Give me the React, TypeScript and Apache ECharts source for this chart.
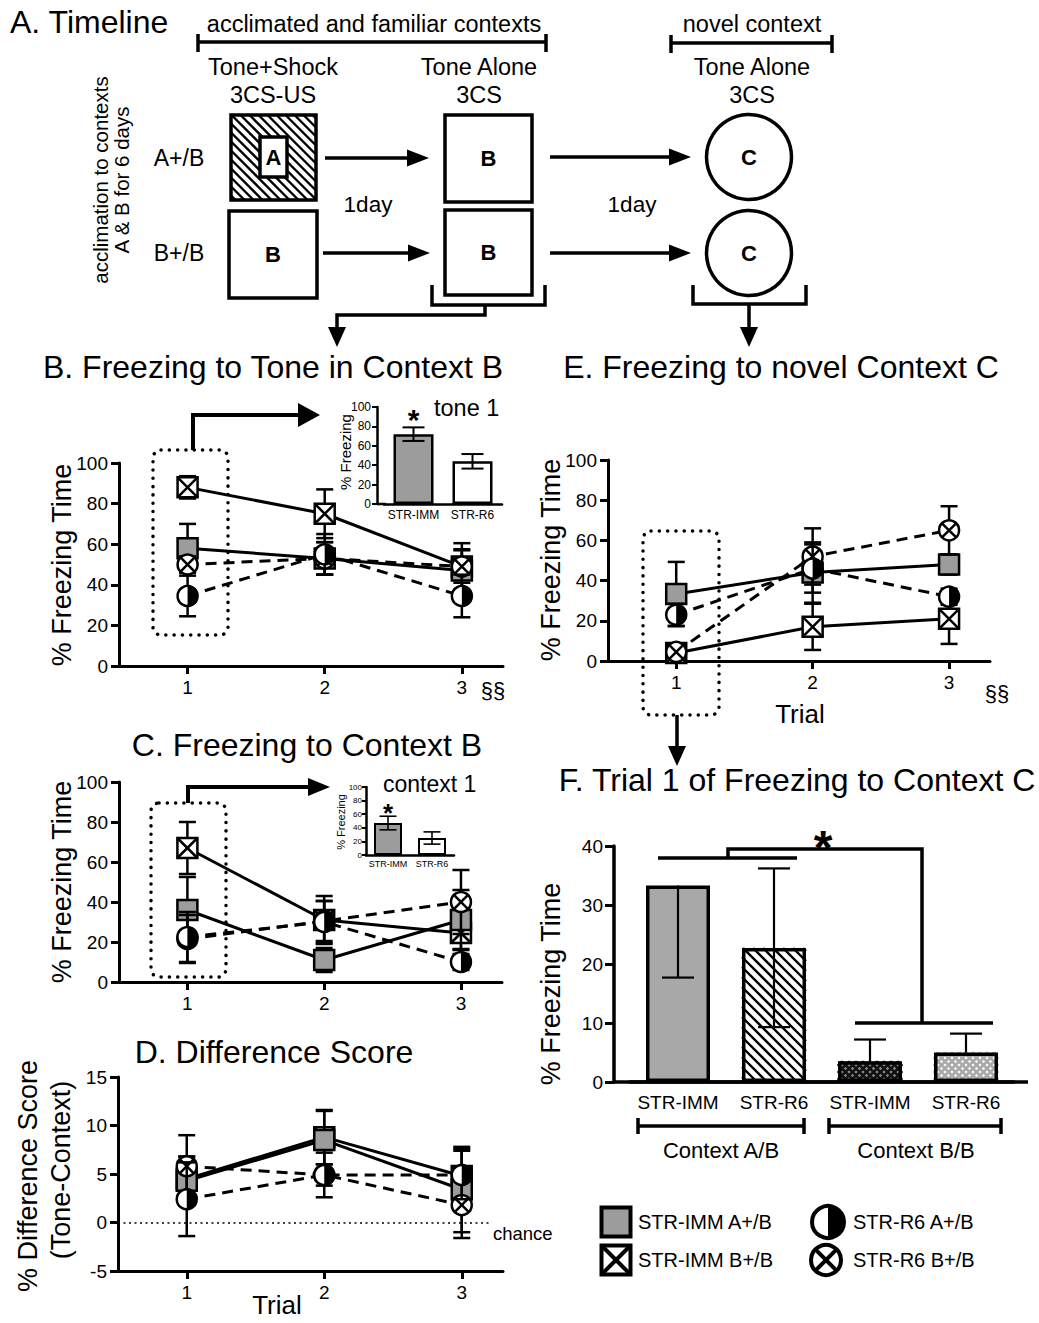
import React, { useEffect, useRef } from 'react';
import * as echarts from 'echarts';

const FONT = '"Liberation Sans", Arial, Helvetica, sans-serif';
const GRAY = '#9c9c9c';
const GRAY_BAR = '#a8a8a8';

// ---------------- data ----------------
const trials = [1, 2, 3];
const groupNames = ['STR-IMM A+/B', 'STR-IMM B+/B', 'STR-R6 A+/B', 'STR-R6 B+/B'];

// B. Freezing to tone in context B
const toneImmAB = [58, 53, 47];
const toneImmABErr = [12, 8, 10.5];
const toneImmBB = [88, 75, 49];
const toneImmBBErr = [5.5, 12, 8];
const toneR6AB = [34.5, 55, 34.5];
const toneR6ABErr = [10, 10, 10.5];
const toneR6BB = [50, 53, 49];
const toneR6BBErr = [4, 8, 11.5];

// C. Freezing to context B
const ctxImmAB = [36, 11, 31];
const ctxImmABErr = [16.5, 6, 15];
const ctxImmBB = [67, 31, 24.5];
const ctxImmBBErr = [13, 12, 8];
const ctxR6AB = [22.5, 30, 10];
const ctxR6ABErr = [12.5, 10.5, 4];
const ctxR6BB = [21.5, 30.5, 40];
const ctxR6BBErr = [12, 10, 16];

// D. Difference score
const diffImmAB = [4.3, 8.5, 3.4];
const diffImmABErr = [2.5, 3, 4.4];
const diffImmBB = [4.5, 8.8, 4.8];
const diffImmBBErr = [2.3, 2.8, 2.8];
const diffR6AB = [2.4, 4.9, 4.9];
const diffR6ABErr = [3.8, 2.3, 2.5];
const diffR6BB = [5.8, 4.9, 1.8];
const diffR6BBErr = [3.2, 1.1, 3.4];

// E. Freezing to novel context C
const novelImmAB = [33.3, 44, 48];
const novelImmABErr = [16, 15, 5];
const novelImmBB = [4, 17, 21];
const novelImmBBErr = [3, 11.5, 12.5];
const novelR6AB = [23, 46, 32];
const novelR6ABErr = [5.5, 12, 4];
const novelR6BB = [4.5, 52, 65];
const novelR6BBErr = [3, 14, 12];

// insets
const insetCats = ['STR-IMM', 'STR-R6'];
const tone1 = [72, 44];
const tone1Err = [7, 7.5];
const context1 = [47, 25];
const context1Err = [10, 9];

// F. Trial 1 of freezing to context C
const fCats = ['STR-IMM', 'STR-R6', 'STR-IMM', 'STR-R6'];
const fValues = [33.3, 22.7, 3.5, 5.0];
const fErrLow = [15.6, 13.4, 0, 0];
const fErrHigh = [0, 13.5, 3.7, 3.2];

// chance line extent (trial axis units) in panel D
const chanceLevel = 0;
const chanceFrom = 0.5;
const chanceTo = 3.22;

// ---------------- styles ----------------
const groupKinds = ['sq', 'xsq', 'half', 'xcirc'];
const groupDashed = [false, false, true, true];
const drawOrder = [1, 0, 3, 2];
const fPatternStyles = ['solid', 'hatch', 'dark', 'light'];
const F_BAR_W = 64;

function marker(kind: string, cx: number, cy: number, s: number, lw: number): any[] {
  const h = s / 2;
  const stroke = { stroke: '#000', lineWidth: lw };
  if (kind === 'sq')
    return [{ type: 'rect', shape: { x: cx - h, y: cy - h, width: s, height: s }, style: { fill: GRAY, ...stroke } }];
  if (kind === 'xsq')
    return [
      { type: 'rect', shape: { x: cx - h, y: cy - h, width: s, height: s }, style: { fill: '#fff', ...stroke } },
      { type: 'line', shape: { x1: cx - h, y1: cy - h, x2: cx + h, y2: cy + h }, style: stroke },
      { type: 'line', shape: { x1: cx + h, y1: cy - h, x2: cx - h, y2: cy + h }, style: stroke },
    ];
  if (kind === 'half')
    return [
      { type: 'circle', shape: { cx, cy, r: h }, style: { fill: '#fff' } },
      { type: 'sector', shape: { cx, cy, r0: 0, r: h, startAngle: -Math.PI / 2, endAngle: Math.PI / 2, clockwise: true }, style: { fill: '#000' } },
      { type: 'circle', shape: { cx, cy, r: h }, style: { fill: 'none', ...stroke } },
    ];
  const d = h * 0.7071;
  return [
    { type: 'circle', shape: { cx, cy, r: h }, style: { fill: '#fff', ...stroke } },
    { type: 'line', shape: { x1: cx - d, y1: cy - d, x2: cx + d, y2: cy + d }, style: stroke },
    { type: 'line', shape: { x1: cx + d, y1: cy - d, x2: cx - d, y2: cy + d }, style: stroke },
  ];
}

function diagLines(x0: number, y0: number, w: number, h: number, step: number, dir: number, style: any): any[] {
  const out: any[] = [];
  for (let c = -h + step / 2; c < w; c += step) {
    const t0 = Math.max(0, -c);
    const t1 = Math.min(h, w - c);
    if (t1 - t0 < 0.5) continue;
    const xa = c + t0;
    const xb = c + t1;
    out.push({
      type: 'line',
      shape: dir === 1
        ? { x1: x0 + xa, y1: y0 + t0, x2: x0 + xb, y2: y0 + t1 }
        : { x1: x0 + w - xa, y1: y0 + t0, x2: x0 + w - xb, y2: y0 + t1 },
      style,
    });
  }
  return out;
}

const txt = (text: string, x: number, y: number, size: number, o: any = {}) => ({
  type: 'text', x, y, rotation: o.rot || 0, z: 20,
  style: {
    text, fontSize: size, fontFamily: FONT, fontWeight: o.bold ? 'bold' : 'normal', fill: '#000',
    align: o.align || 'center', verticalAlign: 'middle',
  },
});
const ln = (x1: number, y1: number, x2: number, y2: number, w = 3.5, extra: any = {}) => ({
  type: 'line', z: 20, shape: { x1, y1, x2, y2 }, style: { stroke: '#000', lineWidth: w, ...extra },
});
const pl = (points: number[][], w = 3.5) => ({
  type: 'polyline', z: 20, shape: { points }, style: { stroke: '#000', lineWidth: w, fill: 'none' },
});
const pg = (points: number[][]) => ({ type: 'polygon', z: 20, shape: { points }, style: { fill: '#000' } });
const arrowR = (x1: number, x2: number, y: number, w = 3.5) => [
  ln(x1, y, x2 - 18, y, w),
  pg([[x2 - 22, y - 8.5], [x2, y], [x2 - 22, y + 8.5]]),
];
const arrowD = (x: number, y2: number) => pg([[x - 9, y2 - 20], [x + 9, y2 - 20], [x, y2]]);
const dotted = (x: number, y: number, w: number, h: number) => ({
  type: 'rect', z: 20, shape: { x, y, width: w, height: h, r: 8 },
  style: { fill: 'none', stroke: '#000', lineWidth: 3.5, lineDash: [0.1, 8.2], lineCap: 'round' },
});
const box = (x: number, y: number, w: number, h: number, label: string) => [
  { type: 'rect', z: 20, shape: { x, y, width: w, height: h }, style: { fill: '#fff', stroke: '#000', lineWidth: 3.5 } },
  txt(label, x + w / 2, y + h / 2, 22, { bold: true }),
];
const circ = (cx: number, cy: number, r: number, label: string) => [
  { type: 'circle', z: 20, shape: { cx, cy, r }, style: { fill: '#fff', stroke: '#000', lineWidth: 3.5 } },
  txt(label, cx, cy, 22, { bold: true }),
];

// ---------------- axes ----------------
const trialX = (gridIndex: number) => ({
  type: 'value', gridIndex, min: 0.5, max: 3.3,
  axisLine: { show: true, onZero: false, lineStyle: { color: '#000', width: 3 } },
  axisTick: { show: true, customValues: trials, length: 8, lineStyle: { color: '#000', width: 3 } },
  axisLabel: { customValues: trials, fontSize: 19, color: '#000', margin: 12, fontFamily: FONT },
  splitLine: { show: false },
});
const valY = (gridIndex: number, min: number, max: number, interval: number) => ({
  type: 'value', gridIndex, min, max, interval,
  axisLine: { show: true, onZero: false, lineStyle: { color: '#000', width: 3 } },
  axisTick: { show: true, length: 8, lineStyle: { color: '#000', width: 3 } },
  axisLabel: { fontSize: 19, color: '#000', margin: 11, fontFamily: FONT },
  splitLine: { show: false },
});
const insetX = (gridIndex: number, fs: number, margin: number) => ({
  type: 'category', gridIndex, data: insetCats,
  axisLine: { show: true, lineStyle: { color: '#000', width: 2.5 } },
  axisTick: { show: false },
  axisLabel: { fontSize: fs, color: '#000', margin, fontFamily: FONT, interval: 0 },
});
const insetY = (gridIndex: number, fs: number, margin: number, tick: number, offset: number) => ({
  type: 'value', gridIndex, min: 0, max: 100, interval: 20, offset,
  axisLine: { show: true, lineStyle: { color: '#000', width: 2.5 } },
  axisTick: { show: true, length: tick, lineStyle: { color: '#000', width: 2 } },
  axisLabel: { fontSize: fs, color: '#000', margin, fontFamily: FONT },
  splitLine: { show: false },
});

// ---------------- series helpers ----------------
function lineSeries(ai: number, vals: number[], dashed: boolean, extra: any = {}) {
  return {
    type: 'line', xAxisIndex: ai, yAxisIndex: ai, z: 2, silent: true, symbol: 'none',
    data: trials.map((t, i) => [t, vals[i]]),
    lineStyle: { color: '#000', width: 3, type: dashed ? [11, 7] : 'solid' },
    ...extra,
  };
}
function pointSeries(ai: number, name: string, kind: string, vals: number[], errs: number[]) {
  return {
    type: 'custom', name, xAxisIndex: ai, yAxisIndex: ai, z: 5, silent: true,
    data: trials.map((t, i) => [t, vals[i], errs[i]]),
    encode: { x: 0, y: 1 },
    renderItem: (params: any, api: any) => {
      const x = api.value(0);
      const y = api.value(1);
      const e = api.value(2);
      const p = api.coord([x, y]);
      const top = api.coord([x, y + e])[1];
      const bot = api.coord([x, y - e])[1];
      const c = 8.5;
      const st = { stroke: '#000', lineWidth: 2.5 };
      return {
        type: 'group',
        children: [
          { type: 'line', shape: { x1: p[0], y1: top, x2: p[0], y2: bot }, style: st },
          { type: 'line', shape: { x1: p[0] - c, y1: top, x2: p[0] + c, y2: top }, style: st },
          { type: 'line', shape: { x1: p[0] - c, y1: bot, x2: p[0] + c, y2: bot }, style: st },
          ...marker(kind, p[0], p[1], 20, 2.5),
        ],
      };
    },
  };
}
function barErrSeries(ai: number, vals: number[], lo: number[], hi: number[], cap: number, lw: number) {
  return {
    type: 'custom', xAxisIndex: ai, yAxisIndex: ai, z: 6, silent: true,
    data: vals.map((v, i) => [i, v, lo[i], hi[i]]),
    encode: { x: 0, y: 1 },
    renderItem: (params: any, api: any) => {
      const i = api.value(0);
      const v = api.value(1);
      const l = api.value(2);
      const h = api.value(3);
      const p = api.coord([i, v]);
      const yl = api.coord([i, v - l])[1];
      const yh = api.coord([i, v + h])[1];
      const st = { stroke: '#000', lineWidth: lw };
      const ch: any[] = [{ type: 'line', shape: { x1: p[0], y1: yh, x2: p[0], y2: yl }, style: st }];
      if (l > 0) ch.push({ type: 'line', shape: { x1: p[0] - cap / 2, y1: yl, x2: p[0] + cap / 2, y2: yl }, style: st });
      if (h > 0) ch.push({ type: 'line', shape: { x1: p[0] - cap / 2, y1: yh, x2: p[0] + cap / 2, y2: yh }, style: st });
      return { type: 'group', children: ch };
    },
  };
}

function buildOption() {
  const panels = [
    { ai: 0, means: [toneImmAB, toneImmBB, toneR6AB, toneR6BB], errs: [toneImmABErr, toneImmBBErr, toneR6ABErr, toneR6BBErr] },
    { ai: 1, means: [ctxImmAB, ctxImmBB, ctxR6AB, ctxR6BB], errs: [ctxImmABErr, ctxImmBBErr, ctxR6ABErr, ctxR6BBErr] },
    { ai: 2, means: [diffImmAB, diffImmBB, diffR6AB, diffR6BB], errs: [diffImmABErr, diffImmBBErr, diffR6ABErr, diffR6BBErr] },
    { ai: 3, means: [novelImmAB, novelImmBB, novelR6AB, novelR6BB], errs: [novelImmABErr, novelImmBBErr, novelR6ABErr, novelR6BBErr] },
  ];
  const series: any[] = [];
  panels.forEach((p) => {
    p.means.forEach((m, g) => {
      const extra = p.ai === 2 && g === 0
        ? {
            markLine: {
              silent: true, symbol: 'none', label: { show: false },
              data: [[{ coord: [chanceFrom, chanceLevel] }, { coord: [chanceTo, chanceLevel] }]],
              lineStyle: { color: '#000', type: [2, 3.5], width: 1.6 },
            },
          }
        : {};
      series.push(lineSeries(p.ai, m, groupDashed[g], extra));
    });
    drawOrder.forEach((g) => series.push(pointSeries(p.ai, groupNames[g], groupKinds[g], p.means[g], p.errs[g])));
  });

  // F bars
  series.push({
    type: 'custom', xAxisIndex: 4, yAxisIndex: 4, z: 2, silent: true,
    data: fValues.map((v, i) => [i, v]),
    encode: { x: 0, y: 1 },
    renderItem: (params: any, api: any) => {
      const i = api.value(0);
      const kind = fPatternStyles[i];
      const top = api.coord([i, api.value(1)]);
      const base = api.coord([i, 0]);
      const x0 = top[0] - F_BAR_W / 2;
      const y0 = top[1];
      const w = F_BAR_W;
      const h = base[1] - top[1];
      const ch: any[] = [];
      if (kind === 'hatch') {
        ch.push({ type: 'rect', shape: { x: x0, y: y0, width: w, height: h }, style: { fill: '#fff' } });
        ch.push(...diagLines(x0, y0, w, h, 10, 1, { stroke: '#000', lineWidth: 2.4 }));
      } else if (kind === 'dark') {
        ch.push({ type: 'rect', shape: { x: x0, y: y0, width: w, height: h }, style: { fill: '#8e8e8e' } });
        ch.push(...diagLines(x0, y0, w, h, 7, 1, { stroke: '#111', lineWidth: 2.6 }));
        ch.push(...diagLines(x0, y0, w, h, 7, -1, { stroke: '#111', lineWidth: 2.6 }));
      } else if (kind === 'light') {
        ch.push({ type: 'rect', shape: { x: x0, y: y0, width: w, height: h }, style: { fill: '#fff' } });
        ch.push(...diagLines(x0, y0, w, h, 7, 1, { stroke: '#aaa', lineWidth: 2.6 }));
        ch.push(...diagLines(x0, y0, w, h, 7, -1, { stroke: '#aaa', lineWidth: 2.6 }));
      }
      return { type: 'group', children: ch };
    },
  });
  series.push({
    type: 'bar', xAxisIndex: 4, yAxisIndex: 4, z: 3, silent: true, barWidth: F_BAR_W,
    data: fValues.map((v, i) => ({ value: v, itemStyle: { color: i === 0 ? GRAY_BAR : 'rgba(0,0,0,0)' } })),
    itemStyle: { borderColor: '#000', borderWidth: 3.5 },
  });
  series.push(barErrSeries(4, fValues, fErrLow, fErrHigh, 32, 2.2));

  // insets
  const starLabel = (fs: number, lh: number | undefined, dist: number) => ({
    show: true, position: 'top', distance: dist, formatter: '*', fontSize: fs, fontWeight: 'bold', color: '#000', fontFamily: FONT,
    ...(lh ? { lineHeight: lh } : {}),
  });
  series.push({
    type: 'bar', xAxisIndex: 5, yAxisIndex: 5, z: 3, silent: true, barWidth: 40,
    data: tone1.map((v, i) => ({ value: v, itemStyle: { color: i === 0 ? GRAY : '#fff' }, label: i === 0 ? starLabel(30, undefined, 0) : { show: false } })),
    itemStyle: { borderColor: '#000', borderWidth: 2.5 },
  });
  series.push(barErrSeries(5, tone1, tone1Err, tone1Err, 22, 2));
  series.push({
    type: 'bar', xAxisIndex: 6, yAxisIndex: 6, z: 3, silent: true, barWidth: 28,
    data: context1.map((v, i) => ({ value: v, itemStyle: { color: i === 0 ? GRAY : '#fff' }, label: i === 0 ? starLabel(26, 15, 3) : { show: false } })),
    itemStyle: { borderColor: '#000', borderWidth: 2 },
  });
  series.push(barErrSeries(6, context1, context1Err, context1Err, 17, 1.6));

  // ---------------- graphic annotations ----------------
  const g: any[] = [];
  // Panel A
  g.push(txt('A. Timeline', 10, 22, 32, { align: 'left' }));
  g.push(txt('acclimated and familiar contexts', 374, 24, 23.5));
  g.push(ln(198, 42, 546, 42), ln(198, 34, 198, 52), ln(546, 34, 546, 52));
  g.push(txt('novel context', 752, 24, 23.5));
  g.push(ln(671, 43, 832, 43), ln(671, 35, 671, 53), ln(832, 35, 832, 53));
  g.push(txt('Tone+Shock', 273, 67, 23.5), txt('3CS-US', 273, 95, 23.5));
  g.push(txt('Tone Alone', 479, 67, 23.5), txt('3CS', 479, 95, 23.5));
  g.push(txt('Tone Alone', 752, 67, 23.5), txt('3CS', 752, 95, 23.5));
  g.push(txt('acclimation to contexts', 100, 180, 20.5, { rot: Math.PI / 2 }));
  g.push(txt('A & B for 6 days', 121, 180, 20.5, { rot: Math.PI / 2 }));
  g.push(txt('A+/B', 179, 158, 23), txt('B+/B', 179, 253, 23));
  // hatched box A
  g.push({ type: 'rect', z: 20, shape: { x: 231, y: 115, width: 85, height: 85 }, style: { fill: '#fff' } });
  diagLines(231, 115, 85, 85, 9, 1, { stroke: '#000', lineWidth: 2.4 }).forEach((e) => g.push({ ...e, z: 20 }));
  g.push({ type: 'rect', z: 20, shape: { x: 231, y: 115, width: 85, height: 85 }, style: { fill: 'none', stroke: '#000', lineWidth: 3.5 } });
  g.push(...box(260, 137, 27, 40, 'A'));
  g.push(...box(229, 211, 88, 87, 'B'));
  g.push(...box(445, 115, 87, 87, 'B'));
  g.push(...box(445, 210, 87, 85, 'B'));
  g.push(...circ(749, 157, 42.5, 'C'));
  g.push(...circ(749, 253, 42.5, 'C'));
  g.push(...arrowR(325, 429, 158), ...arrowR(323, 430, 253));
  g.push(...arrowR(550, 691, 157), ...arrowR(550, 691, 253));
  g.push(txt('1day', 368, 204, 22.5), txt('1day', 632, 204, 22.5));
  g.push(pl([[432, 285], [432, 305], [545, 305], [545, 285]]));
  g.push(pl([[485, 305], [485, 315], [337, 315], [337, 330]]), arrowD(337, 347));
  g.push(pl([[693, 285], [693, 304], [806, 304], [806, 285]]));
  g.push(ln(749, 304, 749, 330), arrowD(749, 347));

  // titles
  g.push(txt('B. Freezing to Tone in Context B', 273, 367, 32));
  g.push(txt('E. Freezing to novel Context C', 781, 367, 32));
  g.push(txt('C. Freezing to Context B', 307, 745, 32));
  g.push(txt('D. Difference Score', 274, 1052, 32));
  g.push(txt('F. Trial 1 of Freezing to Context C', 797, 780, 32));

  // axis names
  g.push(txt('% Freezing Time', 62, 565, 27, { rot: Math.PI / 2 }));
  g.push(txt('% Freezing Time', 62, 882, 27, { rot: Math.PI / 2 }));
  g.push(txt('% Difference Score', 28, 1176, 27, { rot: Math.PI / 2 }));
  g.push(txt('(Tone-Context)', 61, 1170, 27, { rot: Math.PI / 2 }));
  g.push(txt('% Freezing Time', 551, 560, 27, { rot: Math.PI / 2 }));
  g.push(txt('% Freezing Time', 551, 984, 27, { rot: Math.PI / 2 }));
  g.push(txt('Trial', 277, 1305, 26), txt('Trial', 800, 714, 26));
  g.push(txt('§§', 493, 690, 22), txt('§§', 997, 693, 22));
  g.push(txt('chance', 493, 1233, 18.5, { align: 'left' }));

  // inset texts
  g.push(txt('% Freezing', 345, 452, 15, { rot: Math.PI / 2 }));
  g.push(txt('tone 1', 434, 408, 23.5, { align: 'left' }));
  g.push(txt('% Freezing', 341, 822, 11, { rot: Math.PI / 2 }));
  g.push(txt('context 1', 383, 784, 23, { align: 'left' }));
  g.push(ln(377, 504, 386, 504, 2.5));

  // dotted boxes and arrows
  g.push(dotted(153, 450, 75, 185));
  g.push(pl([[193, 450], [193, 415], [302, 415]], 4), pg([[298, 403], [320, 415], [298, 427]]));
  g.push(dotted(151, 803, 75, 174));
  g.push(pl([[188, 803], [188, 787], [312, 787]], 4), pg([[308, 778], [330, 787], [308, 796]]));
  g.push(dotted(643, 531, 76, 184));
  g.push(ln(677, 715, 677, 748, 3.5), arrowD(677, 766));

  // F annotations
  g.push(ln(614, 1082, 1028, 1082, 3.5));
  g.push(ln(658, 858, 797, 858, 3.5));
  g.push(pl([[728, 858], [728, 849], [922, 849], [922, 1023]], 3.5));
  g.push(ln(855, 1023, 993, 1023, 3.5));
  g.push(txt('*', 823, 847, 48, { bold: true }));
  g.push(ln(638, 1126, 804, 1126), ln(638, 1118, 638, 1134), ln(804, 1118, 804, 1134));
  g.push(ln(829, 1126, 1001, 1126), ln(829, 1118, 829, 1134), ln(1001, 1118, 1001, 1134));
  g.push(txt('Context A/B', 721, 1150, 22), txt('Context B/B', 916, 1150, 22));

  // legend
  const legendPos = [[616, 1222, 638], [616, 1260, 638], [828, 1222, 853], [826, 1260, 853]];
  groupNames.forEach((name, i) => {
    const [mx, my, tx] = legendPos[i];
    const size = i < 2 ? 29 : i === 2 ? 32 : 30;
    marker(groupKinds[i], mx, my, size, 4).forEach((e) => g.push({ ...e, z: 20 }));
    g.push(txt(name, tx, my, 20, { align: 'left' }));
  });

  return {
    animation: false,
    backgroundColor: '#fff',
    textStyle: { fontFamily: FONT },
    grid: [
      { left: 119, top: 463, width: 384, height: 203 },
      { left: 119, top: 782, width: 383, height: 200 },
      { left: 118, top: 1077, width: 385, height: 194 },
      { left: 608, top: 460, width: 382, height: 201 },
      { left: 630, top: 846, width: 384, height: 236 },
      { left: 384, top: 407, width: 118, height: 97 },
      { left: 366, top: 787, width: 88, height: 68 },
    ],
    xAxis: [
      trialX(0), trialX(1), trialX(2), trialX(3),
      {
        type: 'category', gridIndex: 4, data: fCats,
        axisLine: { show: true, lineStyle: { color: '#000', width: 3.5 } },
        axisTick: { show: false },
        axisLabel: { fontSize: 19, color: '#000', margin: 11, fontFamily: FONT, interval: 0 },
      },
      insetX(5, 12, 5),
      insetX(6, 9, 4),
    ],
    yAxis: [
      valY(0, 0, 100, 20), valY(1, 0, 100, 20), valY(2, -5, 15, 5), valY(3, 0, 100, 20),
      {
        type: 'value', gridIndex: 4, min: 0, max: 40, interval: 10, offset: 16,
        axisLine: { show: true, lineStyle: { color: '#000', width: 3.5 } },
        axisTick: { show: true, length: 9, lineStyle: { color: '#000', width: 3 } },
        axisLabel: { fontSize: 19, color: '#000', margin: 11, fontFamily: FONT },
        splitLine: { show: false },
      },
      insetY(5, 12, 6, 5, 7),
      insetY(6, 8, 4, 4, 0),
    ],
    series,
    graphic: g,
  };
}

export default function App() {
  const ref = useRef<HTMLDivElement>(null);
  useEffect(() => {
    const chart = echarts.init(ref.current as HTMLDivElement, undefined, { renderer: 'svg' });
    chart.setOption(buildOption() as any);
    return () => chart.dispose();
  }, []);
  return (
    <div
      ref={ref}
      style={{ position: 'absolute', left: 0, top: 0, width: 1039, height: 1323, background: '#fff' }}
    />
  );
}
